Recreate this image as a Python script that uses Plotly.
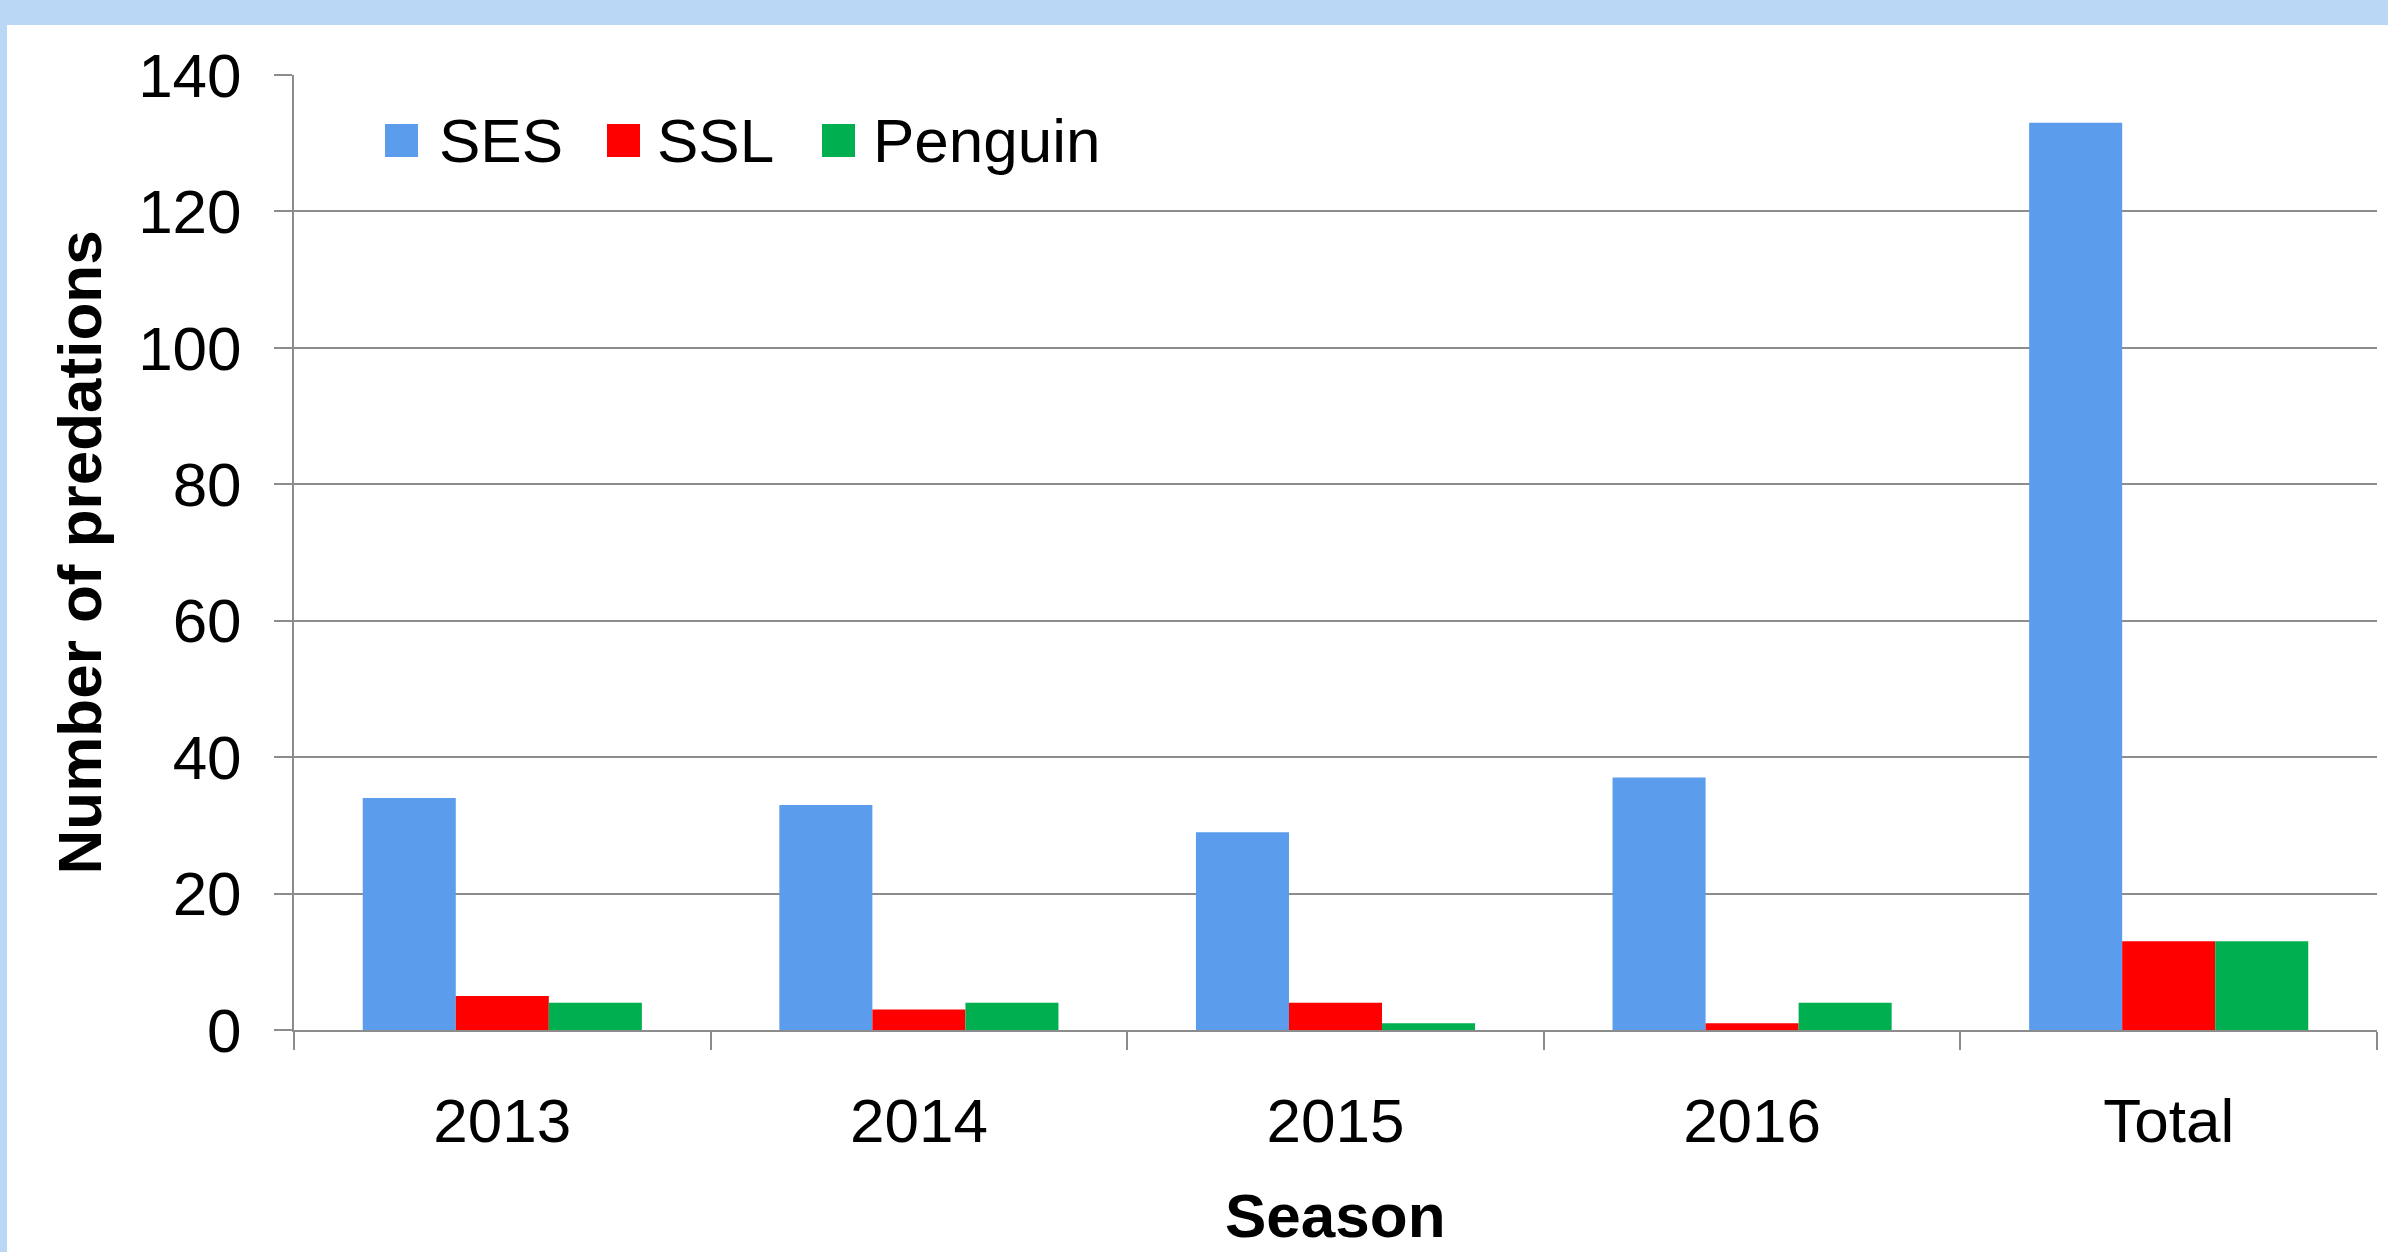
import plotly.graph_objects as go

categories = ["2013", "2014", "2015", "2016", "Total"]
ses = [34, 33, 29, 37, 133]
ssl = [5, 3, 4, 1, 13]
penguin = [4, 4, 1, 4, 13]
y_ticks = [0, 20, 40, 60, 80, 100, 120, 140]

series = [("SES", ses, "#5B9DEC"), ("SSL", ssl, "#FF0000"), ("Penguin", penguin, "#00B050")]

W, H = 2388, 1252
L, R, T, B = 294, 11, 75, 222
PW, PH = W - L - R, H - T - B

def px(x):
    return (x - L) / PW

def py(y):
    return (H - B - y) / PH

FONT = "Arial, 'Liberation Sans', sans-serif"
GRID = "#8C8C8C"

fig = go.Figure()
for name, vals, color in series:
    fig.add_trace(go.Bar(x=categories, y=vals, name=name, marker_color=color,
                         marker_line_width=0, showlegend=False))

shapes = [dict(type="rect", xref="paper", yref="paper", x0=px(7), x1=px(W + 5),
               y0=py(25), y1=py(H + 5), fillcolor="white", line_width=0, layer="below")]
annotations = []
legend_items = [("SES", 385, 437), ("SSL", 607, 655), ("Penguin", 822, 871)]
for (name, _, color), (lab, mx, tx) in zip(series, legend_items):
    shapes.append(dict(type="rect", xref="paper", yref="paper", x0=px(mx), x1=px(mx + 33),
                       y0=py(157), y1=py(124), fillcolor=color, line_width=0))
    annotations.append(dict(text=name, xref="paper", yref="paper", x=px(tx), y=py(140),
                            xanchor="left", yanchor="middle", showarrow=False,
                            font=dict(family=FONT, size=62, color="black")))

annotations.append(dict(text="<b>Season</b>", xref="paper", yref="paper", x=0.5, y=py(1215),
                        xanchor="center", yanchor="middle", showarrow=False,
                        font=dict(family=FONT, size=62, color="black")))
annotations.append(dict(text="<b>Number of predations</b>", xref="paper", yref="paper",
                        x=px(79), y=0.5, textangle=-90, xanchor="center", yanchor="middle",
                        showarrow=False, font=dict(family=FONT, size=62, color="black")))

fig.update_layout(
    width=W, height=H,
    margin=dict(l=L, r=R, t=T, b=B, pad=0),
    paper_bgcolor="#BAD7F5", plot_bgcolor="rgba(0,0,0,0)",
    barmode="group", bargap=0.33, bargroupgap=0,
    font=dict(family=FONT, size=62, color="black"),
    shapes=shapes, annotations=annotations,
    xaxis=dict(type="category", tickson="boundaries", ticks="outside", ticklen=18,
               tickwidth=2, tickcolor=GRID, showline=True, linecolor=GRID, linewidth=2,
               showgrid=False, tickfont=dict(family=FONT, size=62), ticklabelstandoff=36),
    yaxis=dict(range=[0, 140], tickvals=y_ticks, ticks="outside", ticklen=18, tickwidth=2,
               tickcolor=GRID, showline=True, linecolor=GRID, linewidth=2,
               showgrid=True, gridcolor=GRID, gridwidth=2, zeroline=False,
               tickfont=dict(family=FONT, size=62), ticklabelstandoff=20),
)

fig.write_html("out.html", config={"displayModeBar": False},
               post_script="document.body.style.margin='0';document.body.style.overflow='hidden';")
